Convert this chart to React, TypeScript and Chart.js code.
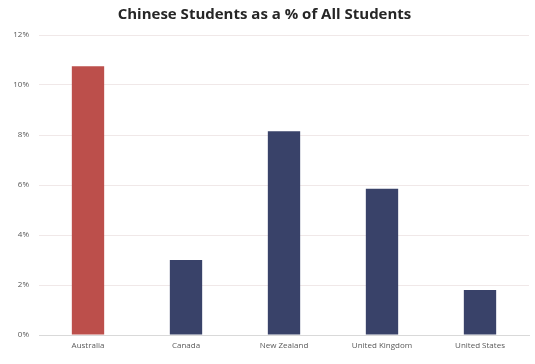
import React, { useEffect, useRef } from "react";
import { Chart, registerables } from "chart.js";

Chart.register(...registerables);

const categories = ["Australia", "Canada", "New Zealand", "United Kingdom", "United States"];
const values = [10.75, 3.0, 8.15, 5.85, 1.8];
const barColors = ["#BC4F4B", "#394269", "#394269", "#394269", "#394269"];
const yTicks = [0, 2, 4, 6, 8, 10, 12];

export default function App() {
  const ref = useRef<HTMLCanvasElement | null>(null);
  useEffect(() => {
    document.body.style.margin = "0";
    const ctx = ref.current!;
    const chart = new Chart(ctx, {
      type: "bar",
      data: {
        labels: categories,
        datasets: [
          {
            data: values,
            backgroundColor: barColors,
            borderColor: barColors,
            borderWidth: 0,
            barPercentage: 0.33,
            categoryPercentage: 1,
          },
        ],
      },
      options: {
        animation: false,
        responsive: false,
        maintainAspectRatio: false,
        layout: { padding: { left: 0, right: 6, top: 0, bottom: 0 } },
        plugins: {
          legend: { display: false },
          tooltip: { enabled: false },
          title: {
            display: true,
            text: "Chinese Students as a % of All Students",
            color: "#262626",
            font: { family: "'Open Sans', sans-serif", size: 15, weight: "bold" },
            padding: { top: 6, bottom: 11 },
          },
        },
        scales: {
          x: {
            grid: { display: false, drawTicks: false },
            border: { display: true, color: "#d9d9d9", width: 1 },
            ticks: {
              color: "#595959",
              font: { family: "'Open Sans', sans-serif", size: 8 },
              padding: 6,
              maxRotation: 0,
              autoSkip: false,
            },
            afterFit: (s: any) => {
              s.height = 29;
            },
          },
          y: {
            min: 0,
            max: 12,
            afterBuildTicks: (s: any) => {
              s.ticks = yTicks.map((v) => ({ value: v }));
            },
            grid: { color: "#f0e8e8", drawTicks: false, lineWidth: 1 },
            border: { display: false },
            ticks: {
              color: "#595959",
              font: { family: "'Open Sans', sans-serif", size: 8 },
              padding: 10,
              callback: (v: any) => v + "%",
            },
            afterFit: (s: any) => {
              s.width = 39;
            },
          },
        },
      },
    });
    return () => chart.destroy();
  }, []);
  return (
    <div style={{ width: 535, height: 364, background: "#fff" }}>
      <canvas ref={ref} width={535} height={364} style={{ display: "block" }} />
    </div>
  );
}
